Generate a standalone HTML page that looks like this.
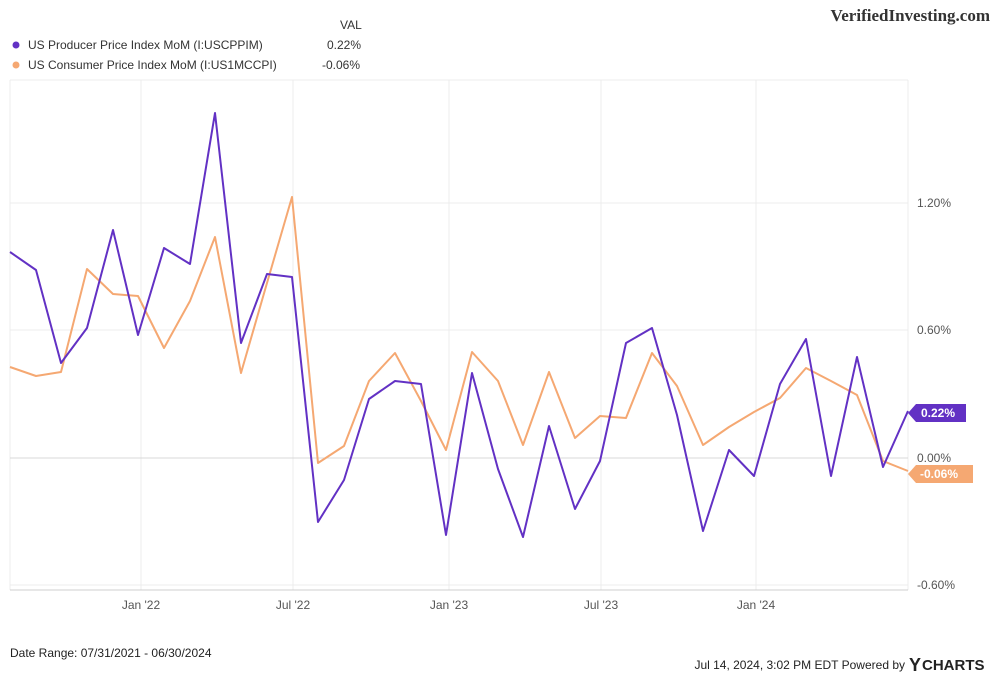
<!DOCTYPE html>
<html><head><meta charset="utf-8"><style>
body{margin:0;background:#fff;font-family:"Liberation Sans",sans-serif;}
svg{display:block}
</style></head><body>
<svg width="1000" height="676" xmlns="http://www.w3.org/2000/svg" font-family="Liberation Sans, sans-serif">
<rect width="1000" height="676" fill="#fff"/>
<g stroke="#ececec" stroke-width="1">
<line x1="141" y1="80" x2="141" y2="590"/>
<line x1="293" y1="80" x2="293" y2="590"/>
<line x1="449" y1="80" x2="449" y2="590"/>
<line x1="601" y1="80" x2="601" y2="590"/>
<line x1="756" y1="80" x2="756" y2="590"/>
<line x1="10" y1="80" x2="10" y2="590"/>
<line x1="908" y1="80" x2="908" y2="590"/>
<line x1="10" y1="80" x2="908" y2="80"/>
<line x1="10" y1="203" x2="908" y2="203"/>
<line x1="10" y1="330" x2="908" y2="330"/>
<line x1="10" y1="585" x2="908" y2="585"/>
</g>
<line x1="10" y1="458" x2="908" y2="458" stroke="#d8d8d8"/>
<line x1="10" y1="590" x2="908" y2="590" stroke="#cfcfcf"/>
<g font-size="12" fill="#555">
<text x="917" y="207">1.20%</text>
<text x="917" y="334">0.60%</text>
<text x="917" y="462">0.00%</text>
<text x="917" y="589">-0.60%</text>
</g>
<g font-size="12" fill="#555" text-anchor="middle">
<text x="141" y="609">Jan '22</text>
<text x="293" y="609">Jul '22</text>
<text x="449" y="609">Jan '23</text>
<text x="601" y="609">Jul '23</text>
<text x="756" y="609">Jan '24</text>
</g>
<polyline fill="none" stroke="#f5a872" stroke-width="2" stroke-linejoin="round" points="10,367 36,376 61,372 87,269 113,294 138,296 164,348 190,301 215,237 241,373 267,283 292,197 318,463 344,446 369,381 395,353 421,401 446,450 472,352 498,381 523,445 549,372 575,438 600,416 626,418 652,353 677,386 703,445 729,427 754,412 780,398 806,368 831,381 857,395 883,461 908,471"/>
<polyline fill="none" stroke="#6231c4" stroke-width="2" stroke-linejoin="round" points="10,252 36,270 61,363 87,328 113,230 138,335 164,248 190,264 215,113 241,343 267,274 292,277 318,522 344,480 369,399 395,381 421,384 446,535 472,373 498,469 523,537 549,426 575,509 600,461 626,343 652,328 677,415 703,531 729,450 754,476 780,384 806,339 831,476 857,357 883,467 908,411"/>
<path d="M908,413 L916,404 L966,404 L966,422 L916,422 Z" fill="#6231c4"/>
<text x="921" y="417" font-size="12" font-weight="bold" fill="#fff">0.22%</text>
<path d="M908,474 L916,465 L973,465 L973,483 L916,483 Z" fill="#f5a872"/>
<text x="920" y="478" font-size="12" font-weight="bold" fill="#fff">-0.06%</text>
<text x="340" y="29" font-size="12" fill="#333">VAL</text>
<circle cx="16" cy="45" r="3.5" fill="#6231c4"/>
<text x="28" y="49" font-size="12" fill="#333">US Producer Price Index MoM (I:USCPPIM)</text>
<text x="327" y="49" font-size="12" fill="#333">0.22%</text>
<circle cx="16" cy="65" r="3.5" fill="#f5a872"/>
<text x="28" y="69" font-size="12" fill="#333">US Consumer Price Index MoM (I:US1MCCPI)</text>
<text x="322" y="69" font-size="12" fill="#333">-0.06%</text>
<text x="990" y="21" font-size="17" font-weight="bold" fill="#333" text-anchor="end" font-family="Liberation Serif, serif">VerifiedInvesting.com</text>
<text x="10" y="657" font-size="12" fill="#222">Date Range: 07/31/2021 - 06/30/2024</text>
<text x="905" y="669" font-size="12" fill="#222" text-anchor="end">Jul 14, 2024, 3:02 PM EDT Powered by</text>
<text x="909" y="671" font-size="18" font-weight="bold" fill="#222">Y</text>
<text x="922" y="670" font-size="15" font-weight="bold" fill="#222">CHARTS</text>
</svg>
</body></html>
